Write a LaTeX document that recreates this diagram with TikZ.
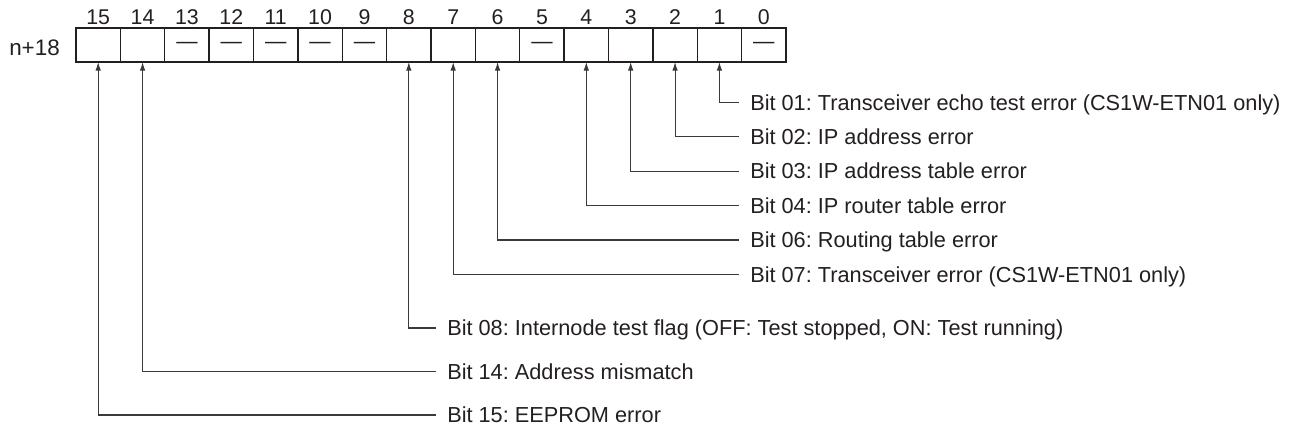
\documentclass[tikz,border=0pt]{standalone}
\usepackage{fontspec}
\setmainfont{Liberation Sans}
\usetikzlibrary{arrows.meta}
\definecolor{ink}{HTML}{231F20}
\definecolor{wire}{HTML}{3A3A3A}
\frenchspacing
\begin{document}
\begin{tikzpicture}[x=0.75pt,y=-0.75pt,
  cell/.style={draw=ink, line width=1pt, minimum width=33.28pt, minimum height=25.5pt,
    inner sep=0pt, outer sep=0pt, anchor=north west, text=ink,
    font=\fontsize{16}{19}\selectfont},
  num/.style={anchor=base, inner sep=0pt, text=ink, font=\fontsize{16}{19}\selectfont},
  lbl/.style={anchor=base west, inner sep=0pt, text=ink, font=\fontsize{16.3}{19}\selectfont},
  conn/.style={draw=wire, line width=0.8pt, -{Latex[length=6.5pt,width=4.2pt]}}]
\useasboundingbox (0,0) rectangle (1290,431);
% register label
\node[anchor=base east, inner sep=0pt, text=ink, font=\fontsize{16.8}{19}\selectfont] (reg) at (60,56) {n+18};
% cells
\foreach \b/\t in {15/,14/,13/—,12/—,11/—,10/—,9/—,8/,7/,6/,5/—,4/,3/,2/,1/,0/—}{
  \pgfmathsetmacro{\xx}{76+(15-\b)*44.375}
  \node[cell] (c\b) at (\xx,28) {\t};
  \node[num] (n\b) at (\xx+22.19,25) {\b};
}
% upper labels
\foreach \b/\yy/\txt in {
  1/102.5/{Bit 01: Transceiver echo test error (CS1W-ETN01 only)},
  2/136.8/{Bit 02: IP address error},
  3/171.2/{Bit 03: IP address table error},
  4/205.6/{Bit 04: IP router table error},
  6/240/{Bit 06: Routing table error},
  7/274.5/{Bit 07: Transceiver error (CS1W-ETN01 only)}}{
  \coordinate (k\b) at (739,\yy);
  \node[lbl] (l\b) at (750,\yy+7.8) {\txt};
  \draw[conn] (k\b) -| (c\b.south);
}
% lower labels
\foreach \b/\yy/\txt in {
  8/328/{Bit 08: Internode test flag (OFF: Test stopped, ON: Test running)},
  14/371.7/{Bit 14: Address mismatch},
  15/415/{Bit 15: EEPROM error}}{
  \coordinate (k\b) at (436,\yy);
  \node[lbl] (l\b) at (447,\yy+7.8) {\txt};
  \draw[conn] (k\b) -| (c\b.south);
}
\end{tikzpicture}
\end{document}
